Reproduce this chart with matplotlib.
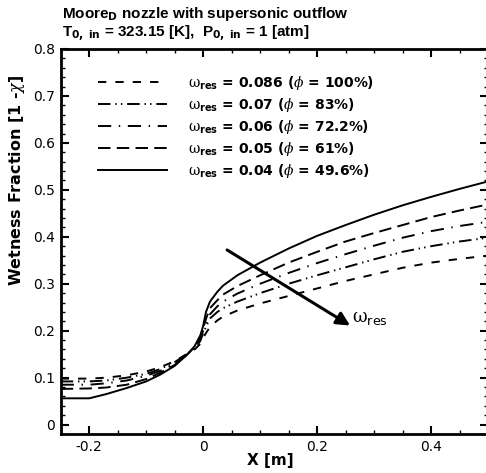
"""Wetness fraction along the Moore D nozzle for several residual omega values."""

import matplotlib

matplotlib.use("Agg")
import matplotlib.pyplot as plt
from matplotlib.ticker import FuncFormatter, MultipleLocator

plt.rcParams["font.family"] = ["DejaVu Sans"]
plt.rcParams["axes.unicode_minus"] = False
plt.rcParams["lines.scale_dashes"] = False
plt.rcParams["mathtext.fontset"] = "custom"
plt.rcParams["mathtext.rm"] = "DejaVu Serif"
plt.rcParams["mathtext.it"] = "DejaVu Serif:italic"
plt.rcParams["mathtext.bf"] = "DejaVu Sans:bold"
plt.rcParams["mathtext.sf"] = "DejaVu Sans"

# x position along the nozzle [m]
x_pos = [-0.25, -0.2, -0.17, -0.134, -0.1, -0.076, -0.05, -0.029, -0.015, -0.005,
         0.0, 0.005, 0.012, 0.025, 0.035, 0.06, 0.1, 0.15, 0.2, 0.25,
         0.3, 0.35, 0.4, 0.45, 0.5]

# wetness fraction for each residual omega
wet_086 = [0.098, 0.098, 0.100, 0.105, 0.113, 0.122, 0.135, 0.150, 0.160, 0.172,
           0.185, 0.195, 0.208, 0.222, 0.230, 0.243, 0.258, 0.274, 0.290, 0.306,
           0.320, 0.334, 0.345, 0.353, 0.360]
wet_07 = [0.092, 0.092, 0.094, 0.100, 0.108, 0.118, 0.133, 0.150, 0.162, 0.178,
          0.195, 0.208, 0.226, 0.240, 0.248, 0.262, 0.280, 0.300, 0.318, 0.335,
          0.352, 0.368, 0.380, 0.390, 0.398]
wet_06 = [0.085, 0.085, 0.088, 0.094, 0.104, 0.114, 0.130, 0.149, 0.164, 0.182,
          0.200, 0.215, 0.235, 0.252, 0.262, 0.279, 0.300, 0.323, 0.344, 0.363,
          0.381, 0.398, 0.412, 0.423, 0.432]
wet_05 = [0.076, 0.077, 0.079, 0.085, 0.097, 0.110, 0.127, 0.148, 0.165, 0.185,
          0.205, 0.225, 0.248, 0.265, 0.277, 0.295, 0.318, 0.345, 0.368, 0.390,
          0.408, 0.425, 0.442, 0.456, 0.469]
wet_04 = [0.056, 0.056, 0.065, 0.078, 0.092, 0.106, 0.125, 0.148, 0.167, 0.190,
          0.210, 0.240, 0.262, 0.283, 0.296, 0.318, 0.345, 0.375, 0.402, 0.425,
          0.447, 0.467, 0.485, 0.502, 0.518]

labels = [
    r"$\mathrm{\omega}_{\mathbf{res}}$ = 0.086 ($\phi$ = 100%)",
    r"$\mathrm{\omega}_{\mathbf{res}}$ = 0.07 ($\phi$ = 83%)",
    r"$\mathrm{\omega}_{\mathbf{res}}$ = 0.06 ($\phi$ = 72.2%)",
    r"$\mathrm{\omega}_{\mathbf{res}}$ = 0.05 ($\phi$ = 61%)",
    r"$\mathrm{\omega}_{\mathbf{res}}$ = 0.04 ($\phi$ = 49.6%)",
]
series = [wet_086, wet_07, wet_06, wet_05, wet_04]
dash_styles = [
    (0, (6, 6.5)),
    (0, (9, 3.5, 1, 3, 1, 3.5)),
    (0, (9.5, 5.5, 1, 5.5)),
    (0, (9, 4.5)),
    "-",
]

fig = plt.figure(figsize=(4.86, 4.73), dpi=100)
ax = fig.add_axes([60.7 / 486, 1 - 434 / 473, (488 - 60.7) / 486, (434 - 49) / 473])

for ys, lab, ls in zip(series, labels, dash_styles):
    ax.plot(x_pos, ys, color="black", lw=1.4, linestyle=ls, label=lab)

ax.set_xlim(-0.25, 0.5)
ax.set_ylim(-0.02, 0.8)
ax.xaxis.set_major_locator(MultipleLocator(0.2))
ax.xaxis.set_minor_locator(MultipleLocator(0.05))
ax.yaxis.set_major_locator(MultipleLocator(0.1))
ax.yaxis.set_minor_locator(MultipleLocator(0.02))
fmt = FuncFormatter(lambda v, _: f"{round(v, 2):g}")
ax.xaxis.set_major_formatter(fmt)
ax.yaxis.set_major_formatter(fmt)
ax.tick_params(which="both", direction="in", top=True, right=True, labelsize=10)
ax.tick_params(which="major", length=6, width=1.5, pad=4)
ax.tick_params(which="minor", length=3, width=1)
for sp in ax.spines.values():
    sp.set_linewidth(2)

ax.set_xlabel("X [m]", fontsize=11, fontweight="bold")
ax.set_ylabel(r"Wetness Fraction [1 -$\chi$]", fontsize=11.5, fontweight="bold")
ax.xaxis.set_label_coords(0.49, -0.05)
ax.yaxis.set_label_coords(-0.08, 0.658)

ax.legend(loc="upper left", bbox_to_anchor=(0.087, 0.935), frameon=False,
          borderpad=0, borderaxespad=0, handlelength=5.0, handletextpad=1.5,
          labelspacing=0.28, prop={"weight": "bold", "size": 10})

# direction of increasing omega_res
ax.annotate("", xy=(0.258, 0.211), xytext=(0.042, 0.372),
            arrowprops=dict(arrowstyle="-|>", lw=2.2, color="black",
                            mutation_scale=20, shrinkA=0, shrinkB=0))
ax.text(0.262, 0.228, r"$\mathrm{\omega}_{\mathsf{res}}$", fontsize=13, va="center")

fig.text(62 / 486, 1 - 14 / 473, r"Moore$_{\mathbf{D}}$ nozzle with supersonic outflow",
         family="Liberation Sans", fontweight="bold", fontsize=11, va="center")
fig.text(62 / 486, 1 - 33 / 473,
         r"T$_{\mathbf{0,\ in}}$ = 323.15 [K],  P$_{\mathbf{0,\ in}}$ = 1 [atm]",
         family="Liberation Sans", fontweight="bold", fontsize=11, va="center")

fig.savefig("out.png", dpi=100)
